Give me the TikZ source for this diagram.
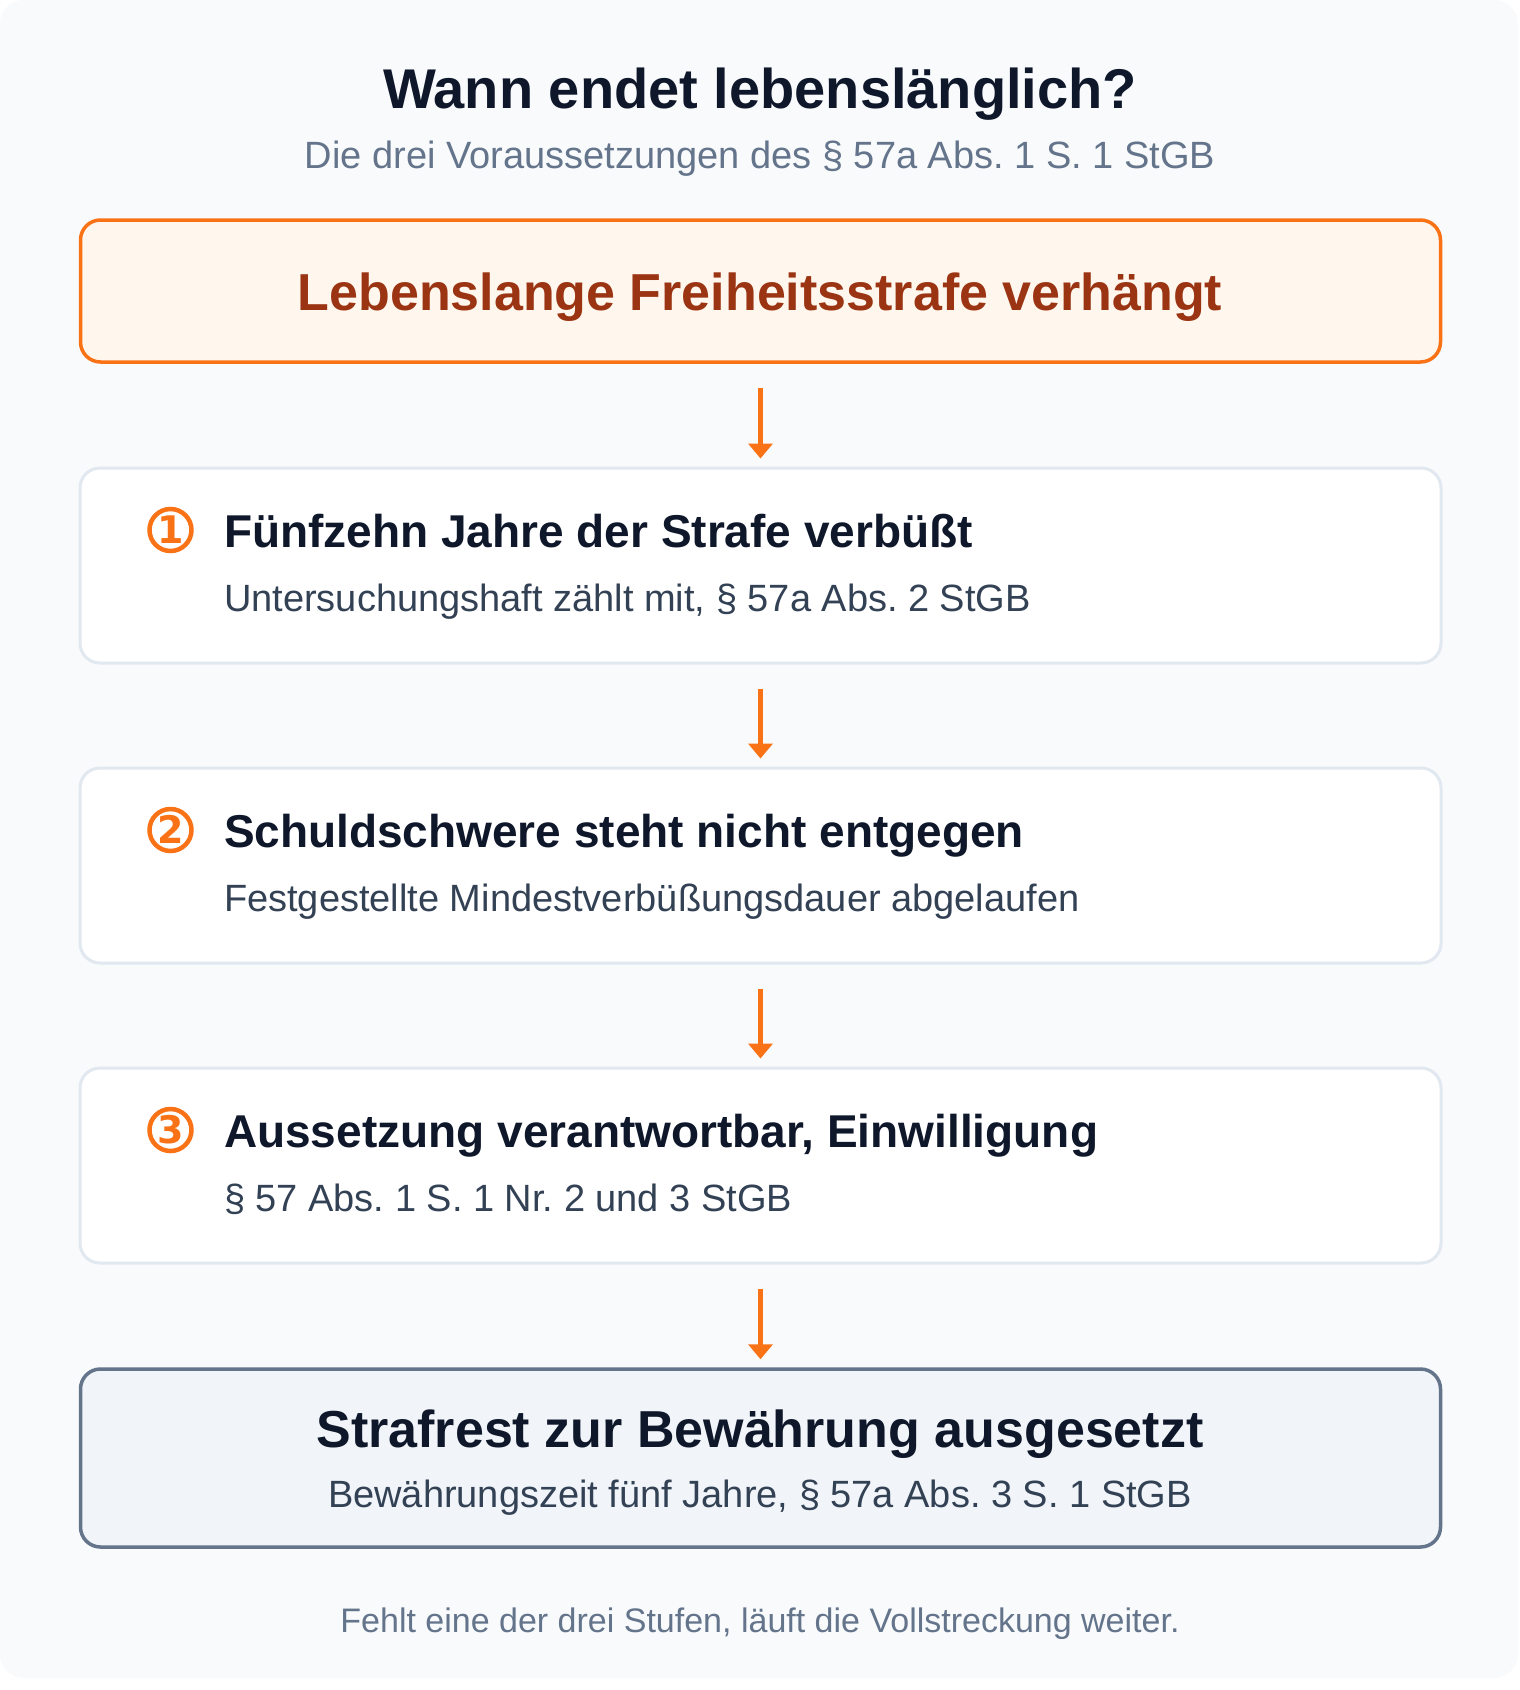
\documentclass[tikz,border=0pt]{standalone}
\usepackage{fontspec}
\setmainfont{Liberation Sans}
\newfontfamily\djv{DejaVu Sans}
\usetikzlibrary{arrows.meta}
\frenchspacing
\definecolor{bgc}{HTML}{F8FAFC}
\definecolor{titlec}{HTML}{0F172A}
\definecolor{subc}{HTML}{64748B}
\definecolor{bodyc}{HTML}{334155}
\definecolor{orangec}{HTML}{F97316}
\definecolor{topfill}{HTML}{FFF7ED}
\definecolor{toptext}{HTML}{9A3412}
\definecolor{boxline}{HTML}{E2E8F0}
\definecolor{endfill}{HTML}{F1F5F9}
\tikzset{
  txt/.style={inner sep=0pt, outer sep=0pt},
  topbox/.style={draw=orangec, line width=3.5pt, fill=topfill, rounded corners=20pt,
    minimum width=1360pt, minimum height=142pt, inner sep=0pt},
  stepbox/.style={draw=boxline, line width=3pt, fill=white, rounded corners=20pt,
    minimum width=1361pt, minimum height=195pt, inner sep=0pt},
  endbox/.style={draw=subc, line width=3.5pt, fill=endfill, rounded corners=20pt,
    minimum width=1360pt, minimum height=178pt, inner sep=0pt},
  flow/.style={draw=orangec, line width=4.5pt, -{Triangle[length=15pt,width=24pt]}},
  numring/.style={circle, draw=orangec, line width=4.5pt, minimum size=42pt, inner sep=0pt,
    text=orangec, font=\djv\bfseries\fontsize{38}{40}\selectfont},
  headf/.style={txt, anchor=base west, text=titlec, font=\bfseries\fontsize{46}{50}\selectfont},
  bodyf/.style={txt, anchor=base west, text=bodyc, font=\fontsize{38}{42}\selectfont},
}
\begin{document}
\begin{tikzpicture}[x=1pt,y=-1pt]
\useasboundingbox (0,0) rectangle (1520,1690);
\fill[white] (0,0) rectangle (1520,1690);
\fill[bgc, rounded corners=24pt] (0,0) rectangle (1518,1678);

\node[txt, anchor=base, text=titlec, font=\bfseries\fontsize{56}{60}\selectfont] (title) at (760,108) {Wann endet lebenslänglich?};
\node[txt, anchor=base, text=subc, font=\fontsize{38}{42}\selectfont] (subtitle) at (760,168) {Die drei Voraussetzungen des § 57a Abs. 1 S. 1 StGB};

\node[topbox] (top) at (760.5,291) {};
\node[txt, anchor=base, text=toptext, font=\bfseries\fontsize{52}{56}\selectfont] (toptxt) at (760,310) {Lebenslange Freiheitsstrafe verhängt};

\node[stepbox] (s1) at (760.5,565.5) {};
\node[numring] (n1) at (170.5,530) {\raisebox{0pt}[0.729em][0pt]{1}};
\node[headf] (h1) at (224,547) {Fünfzehn Jahre der Strafe verbüßt};
\node[bodyf] (b1) at (224,611) {Untersuchungshaft zählt mit, § 57a Abs. 2 StGB};

\node[stepbox] (s2) at (760.5,865.5) {};
\node[numring] (n2) at (170.5,830) {\raisebox{0pt}[0.729em][0pt]{2}};
\node[headf] (h2) at (224,847) {Schuldschwere steht nicht entgegen};
\node[bodyf] (b2) at (224,911) {Festgestellte Mindestverbüßungsdauer abgelaufen};

\node[stepbox] (s3) at (760.5,1165.5) {};
\node[numring] (n3) at (170.5,1130) {\raisebox{0pt}[0.729em][0pt]{3}};
\node[headf] (h3) at (224,1147) {Aussetzung verantwortbar, Einwilligung};
\node[bodyf] (b3) at (224,1211) {§ 57 Abs. 1 S. 1 Nr. 2 und 3 StGB};

\node[endbox] (end) at (760.5,1458) {};
\node[txt, anchor=base, text=titlec, font=\bfseries\fontsize{52}{56}\selectfont] (endh) at (760,1447) {Strafrest zur Bewährung ausgesetzt};
\node[txt, anchor=base, text=bodyc, font=\fontsize{38}{42}\selectfont] (endb) at (760,1507) {Bewährungszeit fünf Jahre, § 57a Abs. 3 S. 1 StGB};

\node[txt, anchor=base, text=subc, font=\fontsize{34}{38}\selectfont] (foot) at (760,1632) {Fehlt eine der drei Stufen, läuft die Vollstreckung weiter.};

\draw[flow] ([yshift=-24pt]top.south) -- ([yshift=8pt]s1.north);
\draw[flow] ([yshift=-24pt]s1.south) -- ([yshift=8pt]s2.north);
\draw[flow] ([yshift=-24pt]s2.south) -- ([yshift=8pt]s3.north);
\draw[flow] ([yshift=-24pt]s3.south) -- ([yshift=8pt]end.north);
\end{tikzpicture}
\end{document}
